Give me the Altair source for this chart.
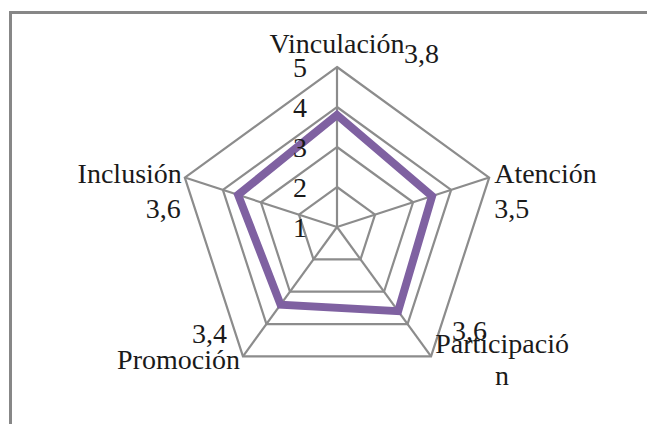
import altair as alt
import pandas as pd

# ---- data -------------------------------------------------------------
categories = ["Vinculación", "Atención", "Participación", "Promoción", "Inclusión"]
category_text = ["Vinculación", "Atención", "Participació\nn", "Promoción", "Inclusión"]
values = [3.8, 3.5, 3.6, 3.4, 3.6]
value_labels = ["3,8", "3,5", "3,6", "3,4", "3,6"]
levels = [1, 2, 3, 4, 5]
level_labels = ["1", "2", "3", "4", "5"]

# ---- scale / layout settings -----------------------------------------
N = len(categories)
R_MIN, R_MAX = levels[0], levels[-1]
W, H = 639, 416
PX = 40.0            # pixels per unit
CX, CY = 329, 219    # centre of the radar inside the view
FONT = "Liberation Serif"
FS = 28
GRID = "#8c8c8c"
PURPLE = "#7F61A1"

xs = alt.Scale(domain=[-CX / PX, (W - CX) / PX], nice=False, zero=False)
ys = alt.Scale(domain=[-(H - CY) / PX, CY / PX], nice=False, zero=False)

series = pd.DataFrame({
    "category": categories,
    "text": category_text,
    "value": values,
    "vlabel": value_labels,
    "idx": list(range(N)),
})
grid = pd.DataFrame([{"level": l, "idx": i} for l in levels[1:] for i in range(N)])
ticks = pd.DataFrame({"level": levels, "label": level_labels})


def polar(chart, rfield):
    return chart.transform_calculate(
        ang=f"datum.idx * 2 * PI / {N}",
        r=f"datum.{rfield} - {R_MIN}",
        x="datum.r * sin(datum.ang)",
        y="datum.r * cos(datum.ang)",
    )


X = alt.X("x:Q", scale=xs, axis=None)
Y = alt.Y("y:Q", scale=ys, axis=None)

grid_layer = polar(alt.Chart(grid), "level").mark_line(
    interpolate="linear-closed", color=GRID, strokeWidth=2.2
).encode(x=X, y=Y, detail="level:N", order="idx:Q")

spokes = polar(alt.Chart(series).transform_calculate(top=f"{R_MAX}"), "top").transform_calculate(
    x0="0", y0="0"
).mark_rule(color=GRID, strokeWidth=2.2).encode(
    x=alt.X("x0:Q", scale=xs, axis=None), y=alt.Y("y0:Q", scale=ys, axis=None),
    x2="x:Q", y2="y:Q"
)

line = polar(alt.Chart(series), "value").mark_line(
    interpolate="linear-closed", color=PURPLE, strokeWidth=8, strokeJoin="miter"
).encode(x=X, y=Y, order="idx:Q")

tick_layer = alt.Chart(ticks).transform_calculate(
    x="0", y=f"datum.level - {R_MIN}"
).mark_text(font=FONT, fontSize=FS, align="right", baseline="middle", dx=-30, dy=2, color="#1a1a1a").encode(
    x=X, y=Y, text="label:N"
)

# label placement styles (per category): (align, dx, dy)
cat_style = {
    "Vinculación": ("center", 0, -14),
    "Atención": ("left", 5, 5),
    "Participación": ("center", 71, -3),
    "Promoción": ("right", -3, 13),
    "Inclusión": ("right", -3, 5),
}
val_style = {
    "Vinculación": ("left", 67, -4),
    "Atención": ("left", 5, 40),
    "Participación": ("left", 21, -16),
    "Promoción": ("right", -16, -13),
    "Inclusión": ("right", -4, 40),
}

label_layers = []
for cat in categories:
    a, dx, dy = cat_style[cat]
    label_layers.append(
        polar(alt.Chart(series).transform_filter(alt.datum.category == cat)
              .transform_calculate(top=f"{R_MAX}"), "top")
        .mark_text(font=FONT, fontSize=FS, align=a, baseline="alphabetic", dx=dx, dy=dy,
                   lineBreak="\n", lineHeight=32, color="#1a1a1a")
        .encode(x=X, y=Y, text="text:N")
    )
    a, dx, dy = val_style[cat]
    label_layers.append(
        polar(alt.Chart(series).transform_filter(alt.datum.category == cat)
              .transform_calculate(top=f"{R_MAX}"), "top")
        .mark_text(font=FONT, fontSize=FS, align=a, baseline="alphabetic", dx=dx, dy=dy, color="#1a1a1a")
        .encode(x=X, y=Y, text="vlabel:N")
    )

border_left = alt.Chart(series).mark_rule(color="#878787", strokeWidth=2.5).encode(
    x=alt.value(2.5), y=alt.value(4.5), y2=alt.value(H)
)
border_top = alt.Chart(series).mark_rule(color="#878787", strokeWidth=2.5).encode(
    x=alt.value(1.3), x2=alt.value(W), y=alt.value(4.5)
)

chart = alt.layer(
    grid_layer, spokes, line, tick_layer, *label_layers, border_left, border_top
).properties(
    width=W, height=H, padding=0, autosize="none", background="white"
).configure_view(stroke=None)

chart.save("out.html", embed_options={"renderer": "svg", "actions": False})
